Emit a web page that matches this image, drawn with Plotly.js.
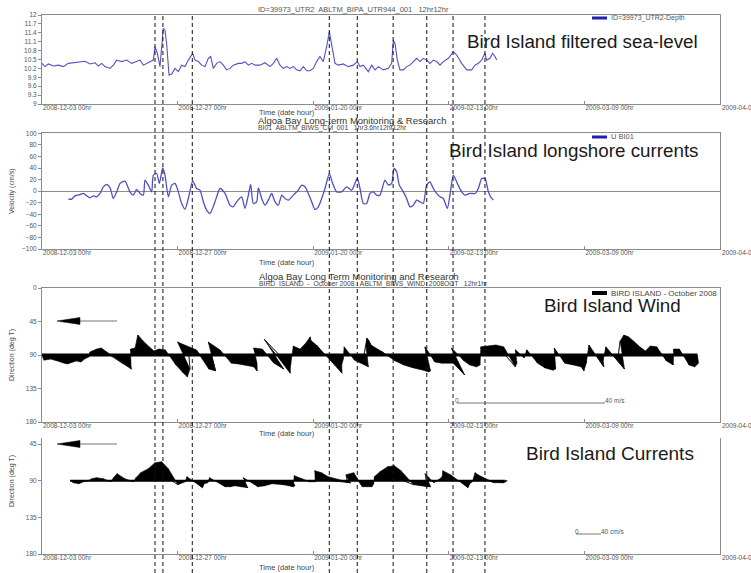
<!DOCTYPE html>
<html><head><meta charset="utf-8">
<script src="https://cdn.plot.ly/plotly-3.0.1.min.js"></script>
<style>html,body{margin:0;padding:0;background:#fff}#chart{width:751px;height:573px}</style>
</head><body><div id="chart"></div>
<script>
// ---------- DATA ----------
const startDate = '2008-12-03';
const xTickDays = [0, 24, 48, 72, 96, 120];
const xTickLabels = ['2008-12-03 00hr','2008-12-27 00hr','2009-01-20 00hr','2009-02-13 00hr','2009-03-09 00hr','2009-04-02 00hr'];
const eventDays = [20.0, 21.4, 26.6, 50.85, 55.8, 62.15, 68.1, 72.75, 78.4];

// Panel 1: filtered sea level (m), time in days since start
const seaDay = [0,0.53,1.12,2.01,2.89,3.78,4.66,5.55,6.73,7.61,8.50,9.38,9.97,10.56,11.15,12.04,12.63,13.22,14.10,14.99,15.87,16.76,17.35,17.94,18.53,19.12,19.71,20.0,20.41,20.88,21.47,21.77,22.06,22.48,22.95,23.54,24.13,24.72,25.31,25.90,26.67,27.08,27.67,28.26,28.85,29.44,29.85,30.32,30.91,31.50,32.09,32.68,33.27,33.86,34.75,35.34,35.93,36.52,37.11,37.70,38.58,39.47,40.35,40.94,41.53,42.12,42.71,43.30,43.89,44.48,45.07,45.66,46.25,46.84,47.43,48.02,48.61,49.20,49.79,50.38,50.86,51.27,51.86,52.45,53.33,54.22,55.10,55.81,56.28,56.87,57.76,58.35,58.94,59.53,60.41,61.30,61.89,62.18,62.48,62.89,63.36,63.95,64.54,65.13,65.72,66.31,66.90,67.49,68.08,68.67,69.26,69.85,70.44,71.03,71.92,72.80,73.39,74.28,75.16,76.05,76.64,77.23,77.82,78.41,78.70,79.29,79.76,80.18,80.47];
const seaLevel = [10.37,10.26,10.35,10.28,10.31,10.26,10.37,10.39,10.40,10.44,10.35,10.39,10.28,10.37,10.26,10.20,10.31,10.48,10.43,10.48,10.37,10.43,10.48,10.31,10.37,10.43,10.48,10.93,10.71,10.26,11.55,11.49,11.04,9.98,10.01,10.20,10.09,10.31,10.26,10.48,10.71,10.48,10.43,10.31,10.26,10.54,10.60,10.20,10.37,10.43,10.31,10.15,10.20,10.31,10.37,10.37,10.43,10.31,10.37,10.31,10.31,10.39,10.26,10.37,10.54,10.31,10.20,10.26,10.20,10.26,10.15,10.12,10.26,10.12,10.12,10.20,10.43,10.60,10.43,10.93,11.44,10.99,10.37,10.31,10.35,10.26,10.31,10.43,10.26,10.31,10.09,10.31,10.15,10.26,10.15,10.20,10.37,11.16,11.04,10.48,10.15,10.15,10.26,10.31,10.43,10.54,10.43,10.54,10.48,10.37,10.48,10.43,10.31,10.43,10.54,10.76,10.65,10.37,10.15,10.15,10.31,10.37,10.48,10.71,10.48,10.54,10.71,10.60,10.48];
const seaTickVals = [9,9.3,9.6,9.9,10.2,10.5,10.8,11.1,11.4,11.7,12];
const seaTickText = ['9','9.3','9.6','9.9','10.2','10.5','10.8','11.1','11.4','11.7','12'];

// Panel 2: longshore velocity (cm/s)
const velDay = [4.66,5.25,5.84,6.73,7.32,7.91,8.50,9.09,9.68,10.27,10.86,11.45,12.04,12.63,13.22,13.81,14.69,15.58,16.17,16.76,17.35,17.94,18.23,18.82,19.41,19.71,20.29,20.77,21.36,21.77,22.36,22.95,23.54,24.13,24.72,25.31,25.90,26.67,27.37,27.96,28.55,29.14,29.73,30.62,31.50,32.39,33.27,33.86,34.45,35.34,35.93,36.52,36.93,37.40,37.99,38.29,38.88,39.47,40.06,40.65,41.24,41.83,42.42,43.01,43.60,44.48,45.37,45.96,46.55,47.14,47.73,48.32,48.91,49.50,50.09,50.86,51.45,52.15,53.04,53.92,54.81,55.81,56.28,56.87,57.46,58.05,58.64,59.23,59.82,60.12,60.71,61.30,61.89,62.30,62.77,63.24,63.95,64.54,65.13,65.72,66.31,66.90,67.49,68.08,68.67,69.26,69.85,70.44,71.03,71.74,72.33,72.80,73.51,74.28,74.87,75.75,76.64,77.23,77.82,78.41,79.00,79.41,79.88];
const velU = [-13.8,-13.8,-8.1,-5.8,-4.0,-8.1,-11.5,-8.1,-9.8,-4.0,7.5,11.5,5.8,-12.7,-1.2,13.3,17.3,-1.2,-6.9,2.9,-4.0,-6.9,19.0,10.4,-1.2,27.7,30.5,13.3,40.3,27.7,-9.8,10.4,13.3,-1.2,-21.3,-31.1,-12.7,17.3,4.6,1.7,-18.4,-32.8,-38.6,-18.4,4.6,-4.0,-24.2,-27.1,-18.4,-9.8,-29.9,-6.9,11.5,-21.3,-18.4,5.8,-12.7,-24.2,-15.6,-4.0,-18.4,-24.2,-6.9,-12.7,-15.6,-6.9,1.7,10.4,7.5,-4.0,-18.4,-31.7,-27.1,-12.7,4.6,30.5,13.3,-1.2,-1.2,7.5,1.7,21.9,4.6,-21.3,-21.3,-4.0,-1.2,-6.9,-6.9,1.7,19.0,10.4,13.3,39.2,33.4,10.4,-1.2,-12.7,-27.1,-24.2,-15.6,-18.4,-21.3,10.4,16.1,4.6,-4.0,-9.8,-12.7,-30.0,1.7,27.7,13.3,-1.2,-6.9,-4.0,-4.0,4.6,21.9,21.9,-1.2,-9.8,-15.6];

// Panel 3: wind vectors (m/s), daily from day 0
const windStartDay = 0;
const windU = [0.5,0.8,1.1,1.4,0.8,1.6,1.4,0.8,0.5,-0.8,
 -0.5,-0.8,3.8,4.3,2.7,1.1,-0.5,-0.8,-1.6,-1.1,
 -0.3,-0.5,-0.3,1.1,1.6,1.1,0.3,-4.6,-1.1,0.8,
 1.1,-2.4,-0.8,0.8,1.1,3.8,3.2,1.6,-0.8,0,
 1.6,2.7,-4.1,1.4,0,-0.8,-0.5,-0.5,-0.8,-2.4,
 -2.2,3.2,1.6,0.5,-0.8,0.5,2.7,0.5,-0.8,-1.9,
 -2.7,-1.6,0.8,1.6,2.7,3.8,3.8,2.7,-0.3,0.8,
 1.1,2.7,4.3,-0.8,1.1,1.1,1.4,0.8,-0.5,-0.3,
 0.5,1.1,2.7,1.6,-0.3,0.5,-0.3,1.1,1.6,2.2,
 1.4,-0.5,0.8,1.6,2.2,1.4,0.5,-0.3,2.2,0.5,
 -0.3,3.2,0.5,0,-0.3,-0.5,-0.3,-0.3,-0.5,-0.3,
 0.8,1.1,-0.3,-0.3,0.8,0.8,0.3];
const windV = [-1.4,-1.1,-1.6,-2.2,-2.4,-1.6,-1.9,-1.1,-0.5,0.8,
 1.6,1.9,-2.4,-3.8,-3.2,-1.6,1.6,1.9,5.4,3.2,
 1.1,1.6,1.4,-2.7,-4.9,-5.9,-3.8,3.5,1.4,-3.8,
 -4.3,3.5,1.4,-2.2,-2.4,-3.2,-4.3,-2.2,1.9,1.6,
 -2.2,-3.8,4.3,-4.9,-2.7,2.4,1.6,3.2,4.9,4.1,
 2.7,-4.9,-2.7,-1.1,2.2,-1.4,-3.2,2.7,4.6,4.1,
 2.7,1.1,-1.6,-2.7,-3.5,-4.1,-4.6,-4.3,2.2,-1.9,
 -2.2,-2.2,-5.4,1.9,-1.6,-2.7,-3.2,-2.7,2.2,2.4,
 2.7,2.2,-3.2,-2.2,1.4,-0.8,1.4,-2.2,-3.5,-4.1,
 -3.8,1.9,-2.2,-2.7,-3.2,-4.3,-2.2,2.7,-3.2,-1.4,
 2.2,-3.8,3.8,5.4,4.9,3.8,2.2,1.1,2.4,2.2,
 -1.6,-2.7,1.6,1.6,-2.7,-3.2,-2.2];

// Panel 4: current vectors (cm/s), daily from day 5
const curStartDay = 5;
const curU = [4.8,4.8,3.2,1.6,-1.6,-3.2,-1.6,1.6,-3.2,-6.4,
 -3.2,1.6,-3.2,-4.8,-1.6,0,1.6,3.2,9.6,8,
 3.2,-3.2,12.8,6.4,3.2,-3.2,12.8,12.8,9.6,11.2,
 12.8,-3.2,11.2,12.8,9.6,6.4,16,22.4,16,4.8,
 -3.2,0,3.2,3.2,-6.4,-4.8,-3.2,24,12.8,-1.6,
 1.6,6.4,12.8,6.4,-1.6,-1.6,1.6,3.2,4.8,16,
 19.2,19.2,16,-1.6,3.2,1.6,-1.6,-9.6,-6.4,12.8,
 6.4,1.6,-3.2,-4.8,9.6,16,9.6,3.2];
const curV = [-3.2,-4.8,-1.6,0,3.2,4.8,3.2,-1.6,4.8,11.2,
 3.2,-1.6,4.8,12.8,19.2,28.8,30.4,19.2,-6.4,-3.2,
 -1.6,6.4,-11.2,-4.8,-3.2,4.8,-9.6,-9.6,-8,-9.6,
 -11.2,4.8,-9.6,-8,-6.4,-4.8,-6.4,-9.6,-8,-3.2,
 8,3.2,-1.6,-1.6,16,12.8,6.4,-3.2,-3.2,9.6,
 12.8,-9.6,-9.6,-4.8,6.4,14.4,22.4,24,16,-6.4,
 -8,-9.6,-9.6,11.2,-3.2,1.6,6.4,16,9.6,-11.2,
 -4.8,-1.6,12.8,8,-3.2,-3.2,-1.6,0];

// ---------- HELPERS ----------
const W = 751, H = 573;
const px = x => x / W, py = y => 1 - y / H;
const START = Date.UTC(2008, 11, 3);
function d2s(d){ const t = new Date(START + d*86400000); return t.toISOString().slice(0,19).replace('T',' '); }
const FONT = 'Liberation Sans, Arial, sans-serif';

const X0 = 42, X1 = 720;                 // plot area pixels
const pxPerDay = (X1 - X0) / 120;
const P3 = [288, 422], P3range = [180, 0];
const P4 = [438, 554], P4range = [180, 37.6];
const p3PxPerDeg = (P3[1]-P3[0]) / 180;
const p4PxPerDeg = (P4[1]-P4[0]) / (P4range[0]-P4range[1]);
// stick scales (from scale bars: 40 m/s ~ 148 px, 40 cm/s ~ 25 px)
const windPxPerUnit = 148/40, curPxPerUnit = 25/40;

function stickPolys(start, U, V, pxPerUnit, pxPerDeg, base){
  const dPerU = pxPerUnit / pxPerDay, degPerU = pxPerUnit / pxPerDeg;
  const xs = [], ys = [];
  for (let i = 0; i < U.length - 1; i++){
    const a = start + i, b = start + i + 1;
    xs.push(d2s(a), d2s(a + U[i]*dPerU), d2s(b + U[i+1]*dPerU), d2s(b), d2s(a), null);
    ys.push(base, base - V[i]*degPerU, base - V[i+1]*degPerU, base, base, null);
  }
  return {xs, ys};
}

// ---------- TRACES ----------
const traces = [];
traces.push({x: seaDay.map(d2s), y: seaLevel, type:'scatter', mode:'lines', xaxis:'x', yaxis:'y',
  line:{color:'#5252c4', width:1.1}, hoverinfo:'skip'});
traces.push({x: velDay.map(d2s), y: velU, type:'scatter', mode:'lines', xaxis:'x2', yaxis:'y2',
  line:{color:'#4f4fc4', width:1.3, shape:'spline', smoothing:0.6}, hoverinfo:'skip'});

const wp = stickPolys(windStartDay, windU, windV, windPxPerUnit, p3PxPerDeg, 90);
traces.push({x: wp.xs, y: wp.ys, type:'scatter', mode:'lines', fill:'toself', fillcolor:'#000',
  line:{color:'#000', width:0.6}, xaxis:'x3', yaxis:'y3', hoverinfo:'skip', connectgaps:false});
traces.push({x:[d2s(windStartDay), d2s(windStartDay + windU.length - 1)], y:[90,90], type:'scatter', mode:'lines',
  line:{color:'#000', width:3}, xaxis:'x3', yaxis:'y3', hoverinfo:'skip'});

const cp = stickPolys(curStartDay, curU, curV, curPxPerUnit, p4PxPerDeg, 90);
traces.push({x: cp.xs, y: cp.ys, type:'scatter', mode:'lines', fill:'toself', fillcolor:'#000',
  line:{color:'#000', width:0.6}, xaxis:'x4', yaxis:'y4', hoverinfo:'skip', connectgaps:false});
traces.push({x:[d2s(curStartDay), d2s(curStartDay + curU.length - 1)], y:[90,90], type:'scatter', mode:'lines',
  line:{color:'#000', width:2}, xaxis:'x4', yaxis:'y4', hoverinfo:'skip'});

// ---------- AXES ----------
const AX = '#8c8c8c';
function xax(anchor, mirror){
  return {type:'date', range:[d2s(0), d2s(120)], domain:[px(X0), px(X1)], anchor,
    tickvals: xTickDays.map(d2s), ticktext: xTickLabels, ticklabelposition:'outside right', ticklabelstandoff:-3,
    showgrid:false, zeroline:false, showline:true, mirror, linecolor:AX, linewidth:1,
    ticks:'inside', ticklen:3, tickcolor:AX, tickfont:{family:FONT, size:6.5, color:'#555'}, fixedrange:true};
}
function yax(anchor, top, bottom, extra){
  return Object.assign({domain:[py(bottom), py(top)], anchor, showgrid:false, zeroline:false, showline:true,
    mirror:true, linecolor:AX, linewidth:1, ticks:'outside', ticklen:3, tickcolor:AX,
    tickfont:{family:FONT, size:6.5, color:'#555'}, fixedrange:true}, extra);
}

const layout = {
  width:W, height:H, margin:{l:0,r:0,t:0,b:0}, paper_bgcolor:'#fff', plot_bgcolor:'#fff', showlegend:false,
  xaxis: xax('y', true), xaxis2: xax('y2', true), xaxis3: xax('y3', true), xaxis4: xax('y4', false),
  yaxis: yax('x', 15, 104, {range:[9,12], tickvals:seaTickVals, ticktext:seaTickText}),
  yaxis2: yax('x2', 133.3, 249, {range:[-100,100], dtick:20, tick0:0, zeroline:true, zerolinecolor:'#8c8c8c', zerolinewidth:1}),
  yaxis3: yax('x3', P3[0], P3[1], {range:P3range, tickvals:[0,45,90,135,180]}),
  yaxis4: yax('x4', P4[0], P4[1], {range:P4range, tickvals:[45,90,135,180]}),
  shapes: [], annotations: []
};

// event lines
eventDays.forEach(d => layout.shapes.push({type:'line', xref:'x', yref:'paper', x0:d2s(d), x1:d2s(d), y0:0, y1:py(13),
  line:{color:'#111', width:1, dash:'4px,3px'}, layer:'above'}));

function txt(text, x, y, size, o){
  layout.annotations.push(Object.assign({text, xref:'paper', yref:'paper', x:px(x), y:py(y), xanchor:'left', yanchor:'middle',
    showarrow:false, font:{family:FONT, size, color:'#333'}}, o||{}));
}
function hline(x0, x1, y, color, width){
  layout.shapes.push({type:'line', xref:'paper', yref:'paper', x0:px(x0), x1:px(x1), y0:py(y), y1:py(y), line:{color, width}});
}
const small = (s, c) => ({font:{family:FONT, size:s, color:c||'#555'}});

// headers
txt('ID=39973_UTR2  ABLTM_BIPA_UTR944_001   12hr12hr', 256, 9.5, 7.5, small(7.5));
txt('Algoa Bay Long-term Monitoring & Research', 256, 120, 9.5, small(9.5, '#333'));
txt('BI01  ABLTM_BIWS_CM_001   1hr3.6hr12hr12hr', 256, 128.3, 6.8, small(6.8, '#444'));
txt('Algoa Bay Long Term Monitoring and Research', 257, 276, 9.5, small(9.5, '#333'));
txt('BIRD  ISLAND  -  October 2008   ABLTM_BIWS_WIND_2008OCT   12hr1hr', 257, 283.5, 6.8, small(6.8, '#444'));

// x titles
[112, 262, 433, 567].forEach(y => txt('Time (date hour)', 257, y, 7.5, small(7.5, '#444')));
// last (cut) tick label at the right edge
[107, 252, 425, 557].forEach(y => txt(xTickLabels[5], 720, y, 6.5, small(6.5)));
// y titles
[['Velocity (cm/s)',191],['Direction (deg T)',355],['Direction (deg T)',481]].forEach(([t,y]) =>
  layout.annotations.push({text:t, xref:'paper', yref:'paper', x:px(12), y:py(y), xanchor:'center', yanchor:'middle',
    textangle:-90, showarrow:false, font:{family:FONT, size:7, color:'#444'}}));

// big labels
txt('Bird Island filtered sea-level', 465, 42, 18.8, small(18.8, '#1a1a1a'));
txt('Bird Island longshore currents', 447, 151, 18.8, small(18.8, '#1a1a1a'));
txt('Bird Island Wind', 542, 305, 18.8, small(18.8, '#1a1a1a'));
txt('Bird Island Currents', 524, 453, 19, small(19, '#1a1a1a'));

// legends
hline(592, 607, 18, '#2020b0', 3); txt('ID=39973_UTR2-Depth', 609, 18, 7, small(7));
hline(592, 607, 137, '#2020b0', 3); txt('U BI01', 609, 137, 7.5, small(7.5));
hline(592, 607, 293, '#000', 4); txt('BIRD ISLAND - October 2008', 609, 293, 8, small(8, '#444'));

// north arrows
[321, 444].forEach(y => {
  hline(78, 117, y, '#777', 1.2);
  layout.shapes.push({type:'path', xref:'paper', yref:'paper',
    path:`M ${px(57)} ${py(y)} L ${px(80)} ${py(y-3.5)} L ${px(80)} ${py(y+3.5)} Z`, fillcolor:'#000', line:{color:'#000', width:0.5}});
});

// scale bars
const wLen = 40 * windPxPerUnit, cLen = 40 * curPxPerUnit;
hline(457, 457 + wLen, 403, '#777', 1);
txt('0', 453, 400, 6.5, small(6.5));
txt('40 m/s', 457 + wLen - 2, 400, 6.5, small(6.5));
hline(576, 576 + cLen, 534, '#777', 1);
txt('0', 573, 531, 6.5, small(6.5));
txt('40 cm/s', 576 + cLen - 2, 531, 6.5, small(6.5));

Plotly.newPlot('chart', traces, layout, {staticPlot:true, displayModeBar:false});
</script>
</body></html>
